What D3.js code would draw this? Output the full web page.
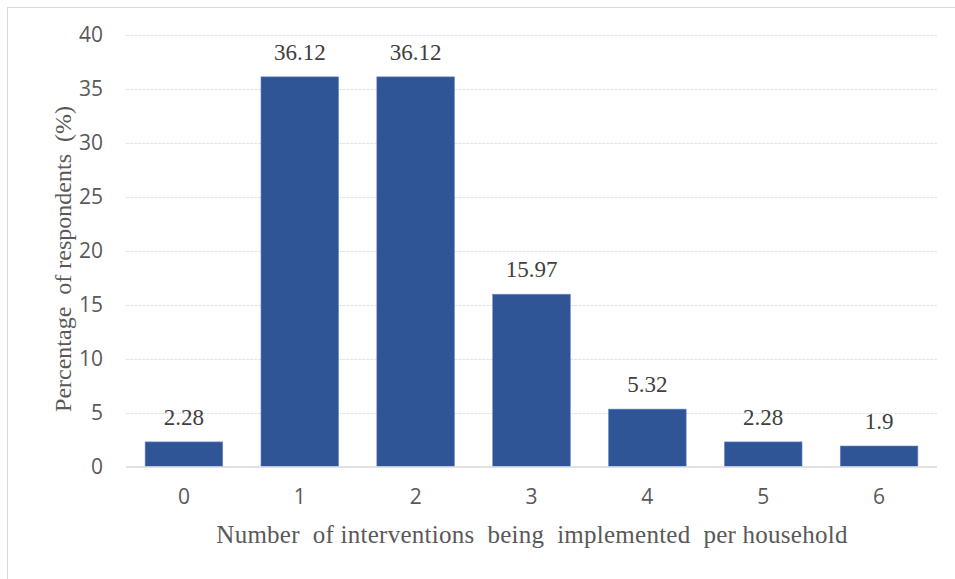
<!DOCTYPE html>
<html>
<head>
<meta charset="utf-8">
<script src="https://cdn.jsdelivr.net/npm/d3@7"></script>
<style>
  html, body { margin: 0; padding: 0; background: #fff; }
  svg { display: block; }
</style>
</head>
<body>
<svg id="chart" width="955" height="579"></svg>
<script>
// Share of households by number of interventions implemented
const categories = ["0", "1", "2", "3", "4", "5", "6"];
const percentages = [2.28, 36.12, 36.12, 15.97, 5.32, 2.28, 1.9];
const yTicks = [0, 5, 10, 15, 20, 25, 30, 35, 40];
const xTitle = "Number  of interventions  being  implemented  per household";
const yTitle = "Percentage  of respondents  (%)";

const svg = d3.select("#chart");
const W = 955, H = 579;
const margin = { left: 126, right: 18, top: 35, bottom: 112.5 };
const serif = "'Liberation Serif', 'Times New Roman', serif";
const sans = "'Open Sans', 'Noto Sans', sans-serif";

// outer frame
svg.append("rect")
  .attr("x", 7.5).attr("y", 7.5)
  .attr("width", W + 20).attr("height", H + 20)
  .attr("fill", "#fff").attr("stroke", "#d9d9d9").attr("stroke-width", 1);

const x = d3.scaleBand()
  .domain(categories)
  .range([margin.left, W - margin.right])
  .paddingInner(0.33)
  .paddingOuter(0.165);

const y = d3.scaleLinear()
  .domain([0, 40])
  .range([H - margin.bottom, margin.top]);

// gridlines
svg.append("g")
  .selectAll("line")
  .data(yTicks.filter(d => d > 0))
  .join("line")
  .attr("x1", margin.left).attr("x2", W - margin.right)
  .attr("y1", d => Math.round(y(d)) + 0.5).attr("y2", d => Math.round(y(d)) + 0.5)
  .attr("stroke", "#e3e3e3").attr("stroke-width", 1).attr("stroke-dasharray", "3,1");

// y axis labels
const yAxis = d3.axisLeft(y).tickValues(yTicks).tickSize(0).tickPadding(0);
const gy = svg.append("g")
  .attr("transform", `translate(${margin.left - 23},0)`)
  .call(yAxis);
gy.select(".domain").remove();
gy.selectAll("text")
  .attr("font-family", sans)
  .attr("font-size", 21)
  .attr("fill", "#595959");

// bars
svg.append("g")
  .selectAll("rect")
  .data(percentages)
  .join("rect")
  .attr("x", (d, i) => x(categories[i]))
  .attr("y", d => y(d))
  .attr("width", x.bandwidth())
  .attr("height", d => y(0) - y(d))
  .attr("fill", "#2f5597")
  .attr("stroke", "#6d8cc4")
  .attr("stroke-width", 0.6);

// baseline
svg.append("line")
  .attr("x1", margin.left).attr("x2", W - margin.right)
  .attr("y1", y(0) + 0.5).attr("y2", y(0) + 0.5)
  .attr("stroke", "#d9d9d9").attr("stroke-width", 1.5);

// x axis labels
const xAxis = d3.axisBottom(x).tickSize(0).tickPadding(0);
const gx = svg.append("g")
  .attr("transform", `translate(0,${y(0) + 23})`)
  .call(xAxis);
gx.select(".domain").remove();
gx.selectAll("text")
  .attr("font-family", sans)
  .attr("font-size", 21)
  .attr("fill", "#595959");

// value labels
svg.append("g")
  .selectAll("text")
  .data(percentages)
  .join("text")
  .attr("x", (d, i) => x(categories[i]) + x.bandwidth() / 2)
  .attr("y", d => y(d) - 17)
  .attr("text-anchor", "middle")
  .attr("font-family", serif)
  .attr("font-size", 23)
  .attr("fill", "#404040")
  .text(d => d);

// axis titles
svg.append("text")
  .attr("x", 532)
  .attr("y", 543)
  .attr("text-anchor", "middle")
  .attr("font-family", serif)
  .attr("font-size", 25)
  .attr("letter-spacing", 0.25)
  .attr("fill", "#595959")
  .style("white-space", "pre")
  .text(xTitle);

svg.append("text")
  .attr("transform", `translate(71,259) rotate(-90)`)
  .attr("text-anchor", "middle")
  .attr("font-family", serif)
  .attr("font-size", 24)
  .attr("fill", "#595959")
  .style("white-space", "pre")
  .text(yTitle);
</script>
</body>
</html>
